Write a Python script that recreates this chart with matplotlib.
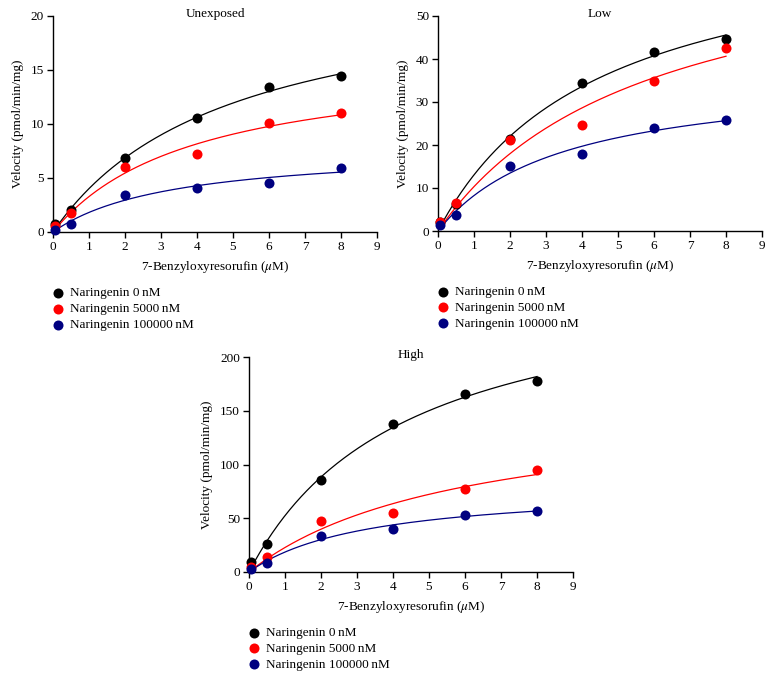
import matplotlib
matplotlib.use("Agg")
import matplotlib.pyplot as plt
import numpy as np

plt.rcParams["font.family"] = ["Liberation Serif", "DejaVu Serif"]
plt.rcParams["mathtext.fontset"] = "stix"
plt.rcParams["font.size"] = 9.5

# substrate concentrations (uM)
conc = [0.05, 0.5, 2, 4, 6, 8]

series_labels = ["Naringenin 0\u2009nM", "Naringenin 5000\u2009nM", "Naringenin 100000\u2009nM"]
series_colors = ["#000000", "#ff0000", "#000080"]

# velocities (pmol/min/mg)
unexp_0 = [0.7, 2.0, 6.85, 10.55, 13.4, 14.4]
unexp_5000 = [0.6, 1.75, 6.05, 7.25, 10.05, 11.0]
unexp_100000 = [0.2, 0.75, 3.4, 4.1, 4.55, 5.95]

low_0 = [2.2, 6.3, 21.4, 34.5, 41.6, 44.6]
low_5000 = [2.0, 6.4, 21.2, 24.7, 34.8, 42.6]
low_100000 = [1.4, 3.7, 15.1, 17.8, 24.0, 25.8]

high_0 = [9, 26, 85.5, 138, 166, 178]
high_5000 = [5, 14, 47, 55, 77.5, 95]
high_100000 = [2.5, 8.5, 33.5, 40, 53, 57]

panels = [
    ("Unexposed", [unexp_0, unexp_5000, unexp_100000], 20, [0, 5, 10, 15, 20]),
    ("Low", [low_0, low_5000, low_100000], 50, [0, 10, 20, 30, 40, 50]),
    ("High", [high_0, high_5000, high_100000], 200, [0, 50, 100, 150, 200]),
]


def mm_fit(x, v):
    # least squares Michaelis-Menten fit: scan Km, Vmax in closed form
    x = np.asarray(x, float)
    v = np.asarray(v, float)
    best = None
    for km in np.linspace(0.05, 40, 4000):
        f = x / (km + x)
        vmax = (v * f).sum() / (f * f).sum()
        sse = ((v - vmax * f) ** 2).sum()
        if best is None or sse < best[0]:
            best = (sse, vmax, km)
    return best[1], best[2]


W, H = 773, 680
fig = plt.figure(figsize=(W / 100, H / 100), dpi=100)
# axes boxes in pixels: left, top, right, bottom
boxes = [(53, 16, 377, 232), (438, 16, 762, 231), (249, 357, 573, 572)]

xs = np.linspace(0.05, 8, 200)
for (title, data, ytop, yticks), (l, t, r, b) in zip(panels, boxes):
    ax = fig.add_axes([l / W, 1 - b / H, (r - l) / W, (b - t) / H])
    for vals, col, lab in zip(data, series_colors, series_labels):
        vmax, km = mm_fit(conc, vals)
        ax.plot(xs, vmax * xs / (km + xs), color=col, lw=0.9, clip_on=False)
        ax.scatter(conc, vals, s=52, color=col, label=lab, zorder=3,
                   clip_on=False, linewidths=0)
    ax.set_xlim(0, 9)
    ax.set_ylim(0, ytop)
    ax.set_xticks(range(10))
    ax.set_yticks(yticks)
    for s in ["top", "right"]:
        ax.spines[s].set_visible(False)
    for s in ["left", "bottom"]:
        ax.spines[s].set_linewidth(1.0)
    ax.tick_params(direction="out", length=4.5, width=1.0, pad=2)
    ax.text(0.5, 1.01, title, transform=ax.transAxes, ha="center", va="center")
    ax.set_xlabel("7-Benzyloxyresorufin ($\\mu$M)", labelpad=4)
    ax.set_ylabel("Velocity (pmol/min/mg)", labelpad=5)
    ax.legend(loc="upper left", bbox_to_anchor=(-0.025, -0.23), frameon=False,
              borderaxespad=0, handletextpad=0.3, labelspacing=0.28,
              handlelength=1.2, scatterpoints=1)

fig.savefig("out.png", dpi=100)
